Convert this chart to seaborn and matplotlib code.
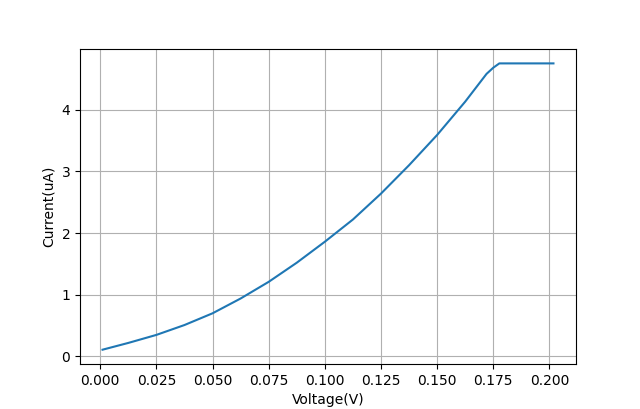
import matplotlib
matplotlib.use("Agg")
import matplotlib.pyplot as plt
import seaborn as sns
import pandas as pd

voltage = [0.001, 0.0125, 0.025, 0.0375, 0.05, 0.0625, 0.075, 0.0875, 0.1,
           0.1125, 0.125, 0.1375, 0.15, 0.1625, 0.172, 0.175, 0.1777, 0.19, 0.2018]
current = [0.11, 0.22, 0.35, 0.51, 0.70, 0.94, 1.21, 1.52, 1.86,
           2.22, 2.64, 3.10, 3.59, 4.13, 4.58, 4.68, 4.75, 4.75, 4.75]

df = pd.DataFrame({"Voltage(V)": voltage, "Current(uA)": current})

fig, ax = plt.subplots(figsize=(6.4, 4.09), dpi=100)
sns.lineplot(data=df, x="Voltage(V)", y="Current(uA)", ax=ax,
             sort=False, estimator=None, color="#1f77b4", linewidth=1.5)
ax.grid(True)
ax.set_xlabel("Voltage(V)")
ax.set_ylabel("Current(uA)")
fig.savefig("out.png", dpi=100)
